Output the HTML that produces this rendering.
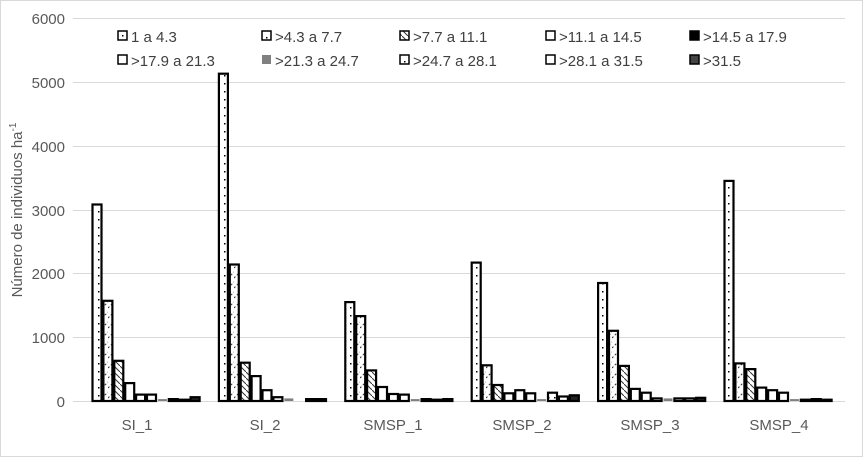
<!DOCTYPE html>
<html><head><meta charset="utf-8"><style>
html,body{margin:0;padding:0;background:#fff}
svg{display:block;font-family:"Liberation Sans",sans-serif}
</style></head><body>
<svg width="863" height="457" viewBox="0 0 863 457">
<defs>
<pattern id="p0" width="6" height="8" patternUnits="userSpaceOnUse"><rect width="6" height="8" fill="#fff"/><rect x="2" y="3" width="1.5" height="1.5" fill="#000"/></pattern>
<pattern id="p1" width="6" height="10" patternUnits="userSpaceOnUse"><rect width="6" height="10" fill="#fff"/><path d="M0 8 L6 2" stroke="#333" stroke-width="1" stroke-dasharray="2 2"/></pattern>
<pattern id="p2" width="6" height="6" patternUnits="userSpaceOnUse"><rect width="6" height="6" fill="#fff"/><path d="M0 0 L6 6" stroke="#333" stroke-width="1"/></pattern>
<pattern id="p3" width="6" height="8" patternUnits="userSpaceOnUse"><rect width="6" height="8" fill="#fff"/><rect x="2" y="5" width="1.5" height="1.5" fill="#000"/></pattern>
</defs>
<rect x="0.5" y="0.5" width="862" height="456" fill="#fff" stroke="#d9d9d9"/>
<g stroke="#d9d9d9" stroke-width="1">
<line x1="73" x2="845" y1="18.5" y2="18.5"/><line x1="73" x2="845" y1="82.5" y2="82.5"/><line x1="73" x2="845" y1="146.5" y2="146.5"/><line x1="73" x2="845" y1="210.5" y2="210.5"/><line x1="73" x2="845" y1="273.5" y2="273.5"/><line x1="73" x2="845" y1="337.5" y2="337.5"/><line x1="73" x2="845" y1="401.5" y2="401.5"/>
</g>
<g font-size="15" fill="#595959" text-anchor="end">
<text x="65" y="24">6000</text><text x="65" y="88">5000</text><text x="65" y="152">4000</text><text x="65" y="216">3000</text><text x="65" y="279">2000</text><text x="65" y="343">1000</text><text x="65" y="407">0</text>
</g>
<text transform="translate(22,210) rotate(-90)" font-size="15" fill="#595959" text-anchor="middle">Número de individuos ha<tspan font-size="10" dy="-6">-1</tspan></text>
<g font-size="15" fill="#595959" text-anchor="middle">
<text x="137" y="430">SI_1</text><text x="265" y="430">SI_2</text><text x="393" y="430">SMSP_1</text><text x="522" y="430">SMSP_2</text><text x="650" y="430">SMSP_3</text><text x="779" y="430">SMSP_4</text>
</g>
<g stroke="#000" stroke-width="2.2">
<!-- SI_1 -->
<rect x="92.5" y="204.5" width="9" height="196.5" fill="url(#p0)"/>
<rect x="103.4" y="300.8" width="9" height="100.2" fill="url(#p1)"/>
<rect x="114.3" y="360.8" width="9" height="40.2" fill="url(#p2)"/>
<rect x="125.2" y="383.1" width="9" height="17.9" fill="#fff"/>
<rect x="136.1" y="394.6" width="9" height="6.4" fill="#fff"/>
<rect x="147.0" y="394.6" width="9" height="6.4" fill="#fff"/>
<rect x="157.9" y="399.1" width="9" height="1.9" fill="#808080" stroke="none"/>
<rect x="168.8" y="399.1" width="9" height="1.9" fill="#fff"/>
<rect x="179.7" y="399.7" width="9" height="1.3" fill="#fff"/>
<rect x="190.6" y="397.2" width="9" height="3.8" fill="#222"/>
<!-- SI_2 -->
<rect x="218.9" y="73.7" width="9" height="327.3" fill="url(#p0)"/>
<rect x="229.8" y="264.5" width="9" height="136.5" fill="url(#p1)"/>
<rect x="240.7" y="362.7" width="9" height="38.3" fill="url(#p2)"/>
<rect x="251.6" y="376.1" width="9" height="24.9" fill="#fff"/>
<rect x="262.5" y="390.2" width="9" height="10.8" fill="#fff"/>
<rect x="273.4" y="397.2" width="9" height="3.8" fill="#fff"/>
<rect x="284.3" y="398.4" width="9" height="2.6" fill="#808080" stroke="none"/>
<rect x="306.1" y="399.1" width="9" height="1.9" fill="#fff"/>
<rect x="317.0" y="399.1" width="9" height="1.9" fill="#222"/>
<!-- SMSP_1 -->
<rect x="345.3" y="302.1" width="9" height="98.9" fill="url(#p0)"/>
<rect x="356.2" y="316.1" width="9" height="84.9" fill="url(#p1)"/>
<rect x="367.1" y="370.4" width="9" height="30.6" fill="url(#p2)"/>
<rect x="378.0" y="387" width="9" height="14" fill="#fff"/>
<rect x="388.9" y="394" width="9" height="7" fill="#fff"/>
<rect x="399.8" y="394.6" width="9" height="6.4" fill="#fff"/>
<rect x="410.7" y="399.1" width="9" height="1.9" fill="#808080" stroke="none"/>
<rect x="421.6" y="399.1" width="9" height="1.9" fill="#fff"/>
<rect x="432.5" y="399.7" width="9" height="1.3" fill="#fff"/>
<rect x="443.4" y="399.1" width="9" height="1.9" fill="#222"/>
<!-- SMSP_2 -->
<rect x="471.7" y="262.6" width="9" height="138.4" fill="url(#p0)"/>
<rect x="482.6" y="365.3" width="9" height="35.7" fill="url(#p1)"/>
<rect x="493.5" y="385" width="9" height="16" fill="url(#p2)"/>
<rect x="504.4" y="393.3" width="9" height="7.7" fill="#fff"/>
<rect x="515.3" y="390.2" width="9" height="10.8" fill="#fff"/>
<rect x="526.2" y="393.3" width="9" height="7.7" fill="#fff"/>
<rect x="537.1" y="399.1" width="9" height="1.9" fill="#808080" stroke="none"/>
<rect x="548.0" y="392.7" width="9" height="8.3" fill="url(#p3)"/>
<rect x="558.9" y="396.5" width="9" height="4.5" fill="#fff"/>
<rect x="569.8" y="395.3" width="9" height="5.7" fill="#222"/>
<!-- SMSP_3 -->
<rect x="598.1" y="283" width="9" height="118" fill="url(#p0)"/>
<rect x="609.0" y="330.8" width="9" height="70.2" fill="url(#p1)"/>
<rect x="619.9" y="365.9" width="9" height="35.1" fill="url(#p2)"/>
<rect x="630.8" y="388.9" width="9" height="12.1" fill="#fff"/>
<rect x="641.7" y="392.7" width="9" height="8.3" fill="#fff"/>
<rect x="652.6" y="398.4" width="9" height="2.6" fill="#fff"/>
<rect x="663.5" y="398.4" width="9" height="2.6" fill="#808080" stroke="none"/>
<rect x="674.4" y="398.4" width="9" height="2.6" fill="#fff"/>
<rect x="685.3" y="398.4" width="9" height="2.6" fill="#fff"/>
<rect x="696.2" y="397.8" width="9" height="3.2" fill="#222"/>
<!-- SMSP_4 -->
<rect x="724.5" y="180.9" width="9" height="220.1" fill="url(#p0)"/>
<rect x="735.4" y="363.4" width="9" height="37.6" fill="url(#p1)"/>
<rect x="746.3" y="369.1" width="9" height="31.9" fill="url(#p2)"/>
<rect x="757.2" y="387.6" width="9" height="13.4" fill="#fff"/>
<rect x="768.1" y="390.2" width="9" height="10.8" fill="#fff"/>
<rect x="779.0" y="392.7" width="9" height="8.3" fill="#fff"/>
<rect x="789.9" y="399.1" width="9" height="1.9" fill="#808080" stroke="none"/>
<rect x="800.8" y="399.7" width="9" height="1.3" fill="#fff"/>
<rect x="811.7" y="399.1" width="9" height="1.9" fill="#fff"/>
<rect x="822.6" y="399.7" width="9" height="1.3" fill="#222"/>
</g>
<g font-size="15" fill="#404040">
<rect x="118" y="31" width="9" height="9" fill="url(#p0)" stroke="#000" stroke-width="1.5"/><text x="131" y="42">1 a 4.3</text>
<rect x="262" y="31" width="9" height="9" fill="url(#p3)" stroke="#000" stroke-width="1.5"/><text x="275" y="42">&gt;4.3 a 7.7</text>
<rect x="400" y="31" width="9" height="9" fill="url(#p2)" stroke="#000" stroke-width="1.5"/><text x="413" y="42">&gt;7.7 a 11.1</text>
<rect x="546" y="31" width="9" height="9" fill="#fff" stroke="#000" stroke-width="1.5"/><text x="559" y="42">&gt;11.1 a 14.5</text>
<rect x="690" y="31" width="9" height="9" fill="#000" stroke="#000" stroke-width="1.5"/><text x="703" y="42">&gt;14.5 a 17.9</text>
<rect x="118" y="55" width="9" height="9" fill="#fff" stroke="#000" stroke-width="1.5"/><text x="131" y="66">&gt;17.9 a 21.3</text>
<rect x="262" y="55" width="9" height="9" fill="#808080"/><text x="275" y="66">&gt;21.3 a 24.7</text>
<rect x="400" y="55" width="9" height="9" fill="url(#p3)" stroke="#000" stroke-width="1.5"/><text x="413" y="66">&gt;24.7 a 28.1</text>
<rect x="546" y="55" width="9" height="9" fill="#fff" stroke="#000" stroke-width="1.5"/><text x="559" y="66">&gt;28.1 a 31.5</text>
<rect x="690" y="55" width="9" height="9" fill="#444" stroke="#000" stroke-width="1.5"/><text x="703" y="66">&gt;31.5</text>
</g>
</svg>
</body></html>
